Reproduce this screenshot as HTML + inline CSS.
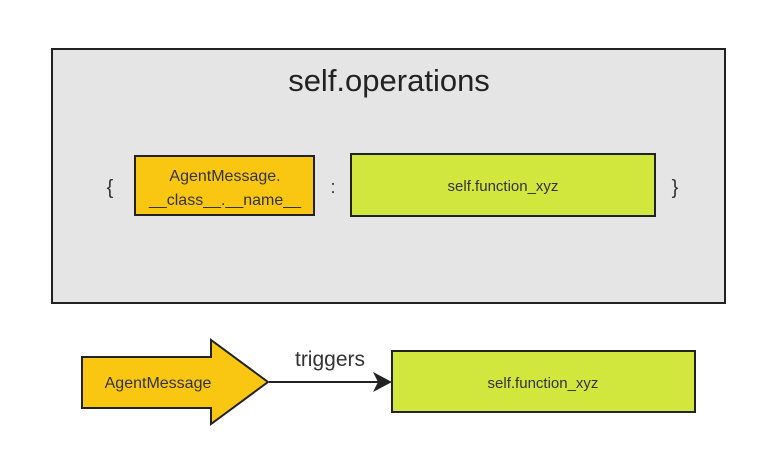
<!DOCTYPE html>
<html><head><style>body{margin:0;background:#fff}svg{display:block}</style></head><body>
<svg width="782" height="473" xmlns="http://www.w3.org/2000/svg" font-family="'Liberation Sans',sans-serif" fill="#333">
<rect x="52" y="49" width="673" height="254" fill="#e5e5e5" stroke="#222" stroke-width="2"/>
<text x="389" y="91" text-anchor="middle" font-size="31" fill="#222">self.operations</text>
<text x="110" y="194" text-anchor="middle" font-size="20">{</text>
<text x="675" y="194" text-anchor="middle" font-size="20">}</text>
<text x="333" y="193" text-anchor="middle" font-size="18">:</text>
<rect x="135" y="156" width="179" height="59" fill="#f9c611" stroke="#222" stroke-width="2"/>
<text x="225" y="181" text-anchor="middle" font-size="16">AgentMessage.</text>
<text x="225" y="205" text-anchor="middle" font-size="16">__class__.__name__</text>
<rect x="351" y="154" width="304" height="62" fill="#d1e73d" stroke="#222" stroke-width="2"/>
<text x="503" y="191" text-anchor="middle" font-size="15">self.function_xyz</text>
<polygon points="82,357 211,357 211,340 268,382 211,424 211,408 82,408" fill="#f9c611" stroke="#222" stroke-width="2"/>
<text x="158" y="388" text-anchor="middle" font-size="16">AgentMessage</text>
<line x1="269" y1="382" x2="380" y2="382" stroke="#222" stroke-width="2"/>
<polygon points="392,382 373,372 378,382 373,392" fill="#222"/>
<text x="330" y="366" text-anchor="middle" font-size="21">triggers</text>
<rect x="392" y="351" width="303" height="61" fill="#d1e73d" stroke="#222" stroke-width="2"/>
<text x="543" y="388" text-anchor="middle" font-size="15">self.function_xyz</text>
</svg>
</body></html>
